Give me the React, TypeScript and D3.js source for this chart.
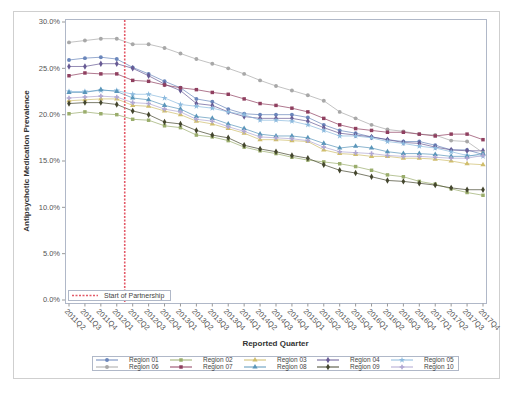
import * as d3 from 'd3';
import React from 'react';

const quarters = [
  '2011Q2', '2011Q3', '2011Q4', '2012Q1', '2012Q2', '2012Q3', '2012Q4',
  '2013Q1', '2013Q2', '2013Q3', '2013Q4', '2014Q1', '2014Q2', '2014Q3', '2014Q4',
  '2015Q1', '2015Q2', '2015Q3', '2015Q4', '2016Q1', '2016Q2', '2016Q3', '2016Q4',
  '2017Q1', '2017Q2', '2017Q3', '2017Q4',
];

const regionNames = ['Region 01', 'Region 02', 'Region 03', 'Region 04', 'Region 05',
  'Region 06', 'Region 07', 'Region 08', 'Region 09', 'Region 10'];

const region01 = [25.9, 26.1, 26.2, 26.0, 25.1, 24.4, 23.6, 22.9, 21.7, 21.4, 20.6, 20.1, 20.0, 20.0, 20.0, 19.7, 18.9, 18.3, 18.0, 17.6, 17.3, 17.1, 17.1, 16.7, 16.2, 16.2, 15.7];
const region02 = [20.1, 20.3, 20.1, 20.0, 19.5, 19.4, 18.8, 18.6, 17.8, 17.6, 17.2, 16.5, 16.1, 15.8, 15.4, 15.1, 14.9, 14.7, 14.4, 14.0, 13.5, 13.3, 12.8, 12.5, 12.0, 11.6, 11.3];
const region03 = [21.5, 21.6, 21.7, 21.7, 21.0, 20.9, 20.4, 20.0, 19.3, 19.0, 18.5, 18.0, 17.3, 17.3, 17.2, 17.1, 16.2, 15.8, 15.7, 15.5, 15.5, 15.3, 15.3, 15.2, 15.0, 14.7, 14.6];
const region04 = [25.2, 25.2, 25.5, 25.5, 25.0, 24.2, 23.3, 22.6, 21.2, 21.0, 20.3, 19.8, 19.6, 19.6, 19.6, 19.3, 18.6, 18.0, 17.8, 17.6, 17.3, 17.0, 16.9, 16.5, 16.2, 16.1, 16.1];
const region05 = [22.5, 22.5, 22.6, 22.6, 22.2, 22.2, 21.8, 21.1, 20.9, 20.7, 20.3, 20.0, 19.4, 19.4, 19.3, 18.9, 18.3, 17.7, 17.7, 17.5, 17.1, 16.9, 16.6, 16.4, 16.0, 15.6, 15.5];
const region06 = [27.8, 28.0, 28.2, 28.2, 27.6, 27.6, 27.2, 26.6, 26.0, 25.5, 25.0, 24.4, 23.7, 23.1, 22.6, 22.1, 21.5, 20.3, 19.6, 18.9, 18.4, 18.2, 17.9, 17.8, 17.2, 17.1, 15.9];
const region07 = [24.2, 24.5, 24.4, 24.4, 23.7, 23.6, 23.2, 22.9, 22.7, 22.4, 22.2, 21.7, 21.2, 21.0, 20.7, 20.3, 19.6, 18.9, 18.5, 18.3, 18.1, 18.1, 17.9, 17.7, 17.9, 17.9, 17.3];
const region08 = [22.4, 22.4, 22.7, 22.5, 21.8, 21.6, 21.0, 20.6, 19.8, 19.6, 19.0, 18.5, 17.9, 17.7, 17.7, 17.5, 16.9, 16.4, 16.6, 16.4, 16.0, 15.8, 15.8, 15.7, 15.5, 15.5, 15.8];
const region09 = [21.2, 21.3, 21.3, 21.1, 20.4, 20.0, 19.2, 19.0, 18.3, 17.8, 17.5, 16.7, 16.3, 16.0, 15.6, 15.3, 14.6, 14.0, 13.7, 13.3, 12.9, 12.8, 12.6, 12.4, 12.1, 11.9, 11.9];
const region10 = [21.8, 21.9, 22.0, 21.9, 21.3, 21.2, 20.6, 20.3, 19.5, 19.3, 18.7, 18.2, 17.6, 17.5, 17.4, 17.2, 16.5, 16.0, 15.9, 15.8, 15.6, 15.5, 15.5, 15.4, 15.3, 15.3, 15.6];

const seriesValues = [region01, region02, region03, region04, region05,
  region06, region07, region08, region09, region10];

const yTicks = [0, 5, 10, 15, 20, 25, 30];
const partnershipAfter = '2012Q1';

const colors = ['#6a86bb', '#9aad6c', '#cfbd6c', '#675a94', '#8cbade',
  '#a8a8a8', '#8f3f5f', '#5a96ba', '#44462e', '#b0a7d2'];
const symbols = [d3.symbolCircle, d3.symbolSquare, d3.symbolTriangle, d3.symbolDiamond, d3.symbolStar,
  d3.symbolCircle, d3.symbolSquare, d3.symbolTriangle, d3.symbolDiamond, d3.symbolCross];

const font = 'Arial, "Liberation Sans", sans-serif';

export default function App() {
  const plot = { left: 65, right: 486, top: 19, bottom: 303 };

  const x = d3.scalePoint<string>().domain(quarters).range([69, 483]);
  const y = d3.scaleLinear().domain([0, 30]).range([300, 22]);

  const line = d3.line<number>()
    .x((_, i) => x(quarters[i])!)
    .y(d => y(d));

  const dashX = (x(partnershipAfter)! + x(quarters[quarters.indexOf(partnershipAfter) + 1])!) / 2;

  const legendCols = [129, 203, 277, 350, 424];
  const legendRows = [360, 367];

  return (
    <svg width={522} height={394} style={{ position: 'absolute', left: 0, top: 0, background: '#fff' }}
      fontFamily={font}>
      <rect x={13.5} y={11.5} width={486} height={367} fill="none" stroke="#cfcfcf" />
      <rect x={plot.left + 0.5} y={plot.top + 0.5} width={plot.right - plot.left} height={plot.bottom - plot.top}
        fill="#fff" stroke="#b0b8c8" />

      {yTicks.map(t => (
        <g key={t}>
          <line x1={plot.left - 3} x2={plot.left} y1={y(t)} y2={y(t)} stroke="#999" />
          <text x={plot.left - 5} y={y(t)} dy="0.33em" textAnchor="end" fontSize={7.5} fill="#555">
            {d3.format('.1f')(t) + '%'}
          </text>
        </g>
      ))}

      {quarters.map(q => (
        <g key={q}>
          <line x1={x(q)} x2={x(q)} y1={plot.bottom + 0.5} y2={plot.bottom + 3.5} stroke="#999" />
          <text transform={`translate(${x(q)! - 3},${plot.bottom + 7}) rotate(45)`} fontSize={7.5} fill="#555"
            dy="0.35em">
            {q}
          </text>
        </g>
      ))}

      <text transform={`translate(29,${(plot.top + plot.bottom) / 2}) rotate(-90)`} textAnchor="middle"
        fontSize={8} fontWeight="bold" fill="#333">
        Antipsychotic Medication Prevalence
      </text>
      <text x={(plot.left + plot.right) / 2} y={346} textAnchor="middle" fontSize={8} fontWeight="bold" fill="#333">
        Reported Quarter
      </text>

      {seriesValues.map((vals, s) => (
        <g key={s}>
          <path d={line(vals)!} fill="none" stroke={colors[s]} strokeWidth={1} strokeOpacity={0.7} />
          {vals.map((v, i) => (
            <path key={i} transform={`translate(${x(quarters[i])},${y(v)})`}
              d={d3.symbol(symbols[s], 12)()!} fill={colors[s]} />
          ))}
        </g>
      ))}

      <line x1={dashX} x2={dashX} y1={plot.top + 1} y2={plot.bottom} stroke="#e35a68" strokeWidth={1.6}
        strokeDasharray="2,1.5" />

      <rect x={68.5} y={290.5} width={102} height={10} fill="#fff" stroke="#b0b8c8" />
      <line x1={72} x2={98} y1={295.5} y2={295.5} stroke="#e35a68" strokeWidth={1.6} strokeDasharray="2,1.5" />
      <text x={104} y={295.5} dy="0.35em" fontSize={7} fill="#444">Start of Partnership</text>

      <rect x={92.5} y={356.5} width={366} height={14} fill="#fff" stroke="#b0b8c8" />
      {regionNames.map((name, i) => {
        const cx = legendCols[i % 5];
        const cy = legendRows[Math.floor(i / 5)];
        return (
          <g key={name}>
            <line x1={cx - 33} x2={cx - 11} y1={cy} y2={cy} stroke={colors[i]} strokeWidth={1} />
            <path transform={`translate(${cx - 22},${cy})`} d={d3.symbol(symbols[i], 12)()!} fill={colors[i]} />
            <text x={cx} y={cy} dy="0.35em" fontSize={6.5} fill="#444">{name}</text>
          </g>
        );
      })}
    </svg>
  );
}
